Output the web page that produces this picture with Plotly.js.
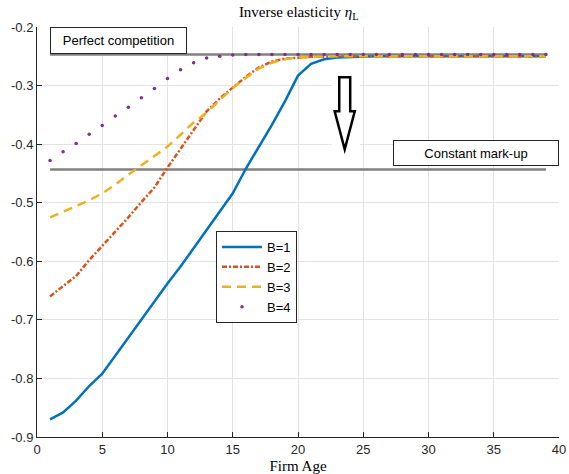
<!DOCTYPE html>
<html>
<head>
<meta charset="utf-8">
<script src="https://cdn.plot.ly/plotly-3.0.1.min.js"></script>
<style>html,body{margin:0;padding:0;background:#fff;}#chart{width:569px;height:474px;}</style>
</head>
<body>
<div id="chart"></div>
<script>
// ---- data ----
const firmAge = [1,2,3,4,5,6,7,8,9,10,11,12,13,14,15,16,17,18,19,20,21,22,23,24,25,26,27,28,29,30,31,32,33,34,35,36,37,38,39];
const etaB1 = [-0.870,-0.858,-0.838,-0.813,-0.792,-0.761,-0.730,-0.700,-0.670,-0.638,-0.609,-0.578,-0.548,-0.516,-0.484,-0.442,-0.405,-0.367,-0.327,-0.283,-0.263,-0.255,-0.252,-0.251,-0.250,-0.250,-0.250,-0.250,-0.250,-0.250,-0.250,-0.250,-0.250,-0.250,-0.250,-0.250,-0.250,-0.250,-0.250];
const etaB2 = [-0.660,-0.642,-0.625,-0.598,-0.574,-0.550,-0.525,-0.499,-0.474,-0.440,-0.408,-0.374,-0.344,-0.322,-0.303,-0.285,-0.269,-0.259,-0.254,-0.252,-0.251,-0.251,-0.250,-0.250,-0.250,-0.250,-0.250,-0.250,-0.250,-0.250,-0.250,-0.250,-0.250,-0.250,-0.250,-0.250,-0.250,-0.250,-0.250];
const etaB3 = [-0.525,-0.515,-0.506,-0.496,-0.484,-0.469,-0.452,-0.436,-0.421,-0.404,-0.384,-0.363,-0.346,-0.325,-0.304,-0.287,-0.271,-0.261,-0.255,-0.252,-0.251,-0.251,-0.250,-0.250,-0.250,-0.250,-0.250,-0.250,-0.250,-0.250,-0.250,-0.250,-0.250,-0.250,-0.250,-0.250,-0.250,-0.250,-0.250];
const etaB4 = [-0.428,-0.413,-0.399,-0.383,-0.368,-0.352,-0.337,-0.321,-0.305,-0.288,-0.273,-0.261,-0.253,-0.250,-0.248,-0.247,-0.247,-0.247,-0.247,-0.247,-0.247,-0.247,-0.247,-0.247,-0.247,-0.247,-0.247,-0.247,-0.247,-0.247,-0.247,-0.247,-0.247,-0.247,-0.247,-0.247,-0.247,-0.247,-0.247];
const refX = [1, 39];
const perfectCompetition = [-0.247, -0.247];
const constantMarkup = [-0.4435, -0.4435];
const seriesNames = ['B=1','B=2','B=3','B=4'];
const xTickVals = [0,5,10,15,20,25,30,35,40];
const yTickVals = [-0.9,-0.8,-0.7,-0.6,-0.5,-0.4,-0.3,-0.2];
const yTickLabels = ['-0.9','-0.8','-0.7','-0.6','-0.5','-0.4','-0.3','-0.2'];

const sans = 'Liberation Sans, Arial, sans-serif';
const serif = 'Liberation Serif, Times New Roman, serif';
const axisCol = '#262626';

const traces = [
  {x: refX, y: perfectCompetition, mode:'lines', line:{color:'#808080', width:2.5}, showlegend:false, hoverinfo:'skip'},
  {x: refX, y: constantMarkup, mode:'lines', line:{color:'#808080', width:2.5}, showlegend:false, hoverinfo:'skip'},
  {x: firmAge, y: etaB1, name: seriesNames[0], mode:'lines', line:{color:'#0072BD', width:2.5}},
  {x: firmAge, y: etaB2, name: seriesNames[1], mode:'lines', line:{color:'#D95319', width:2.5, dash:'5px,2px,2px,2px'}},
  {x: firmAge, y: etaB3, name: seriesNames[2], mode:'lines', line:{color:'#EDB120', width:2.5, dash:'9px,6px'}},
  {x: firmAge, y: etaB4, name: seriesNames[3], mode:'markers', marker:{color:'#7E2F8E', size:3.5}}
];

const layout = {
  width: 569, height: 474,
  margin: {l:37, r:10, t:27, b:37},
  paper_bgcolor:'#ffffff', plot_bgcolor:'#ffffff',
  font: {family: sans, size: 13, color: axisCol},
  title: {text: 'Inverse elasticity <i>η</i><sub>L</sub>', font:{family: serif, size:15, color:'#000'}, x:0.525, xanchor:'center', y: 1-12/474, yanchor:'middle', yref:'container'},
  xaxis: {
    range:[0,40], tickvals: xTickVals, ticks:'inside', ticklen:5, tickcolor:axisCol,
    showline:true, linecolor:axisCol, linewidth:1, mirror:false,
    showgrid:true, gridcolor:'#e3e3e3', gridwidth:1, zeroline:false,
    tickfont:{family:sans, size:13, color:axisCol},
    title:{text:'Firm Age', font:{family:serif, size:15, color:'#000'}, standoff:4},
    automargin:false
  },
  yaxis: {
    range:[-0.9,-0.2], tickvals: yTickVals, ticktext: yTickLabels, ticks:'inside', ticklen:5, tickcolor:axisCol,
    showline:true, linecolor:axisCol, linewidth:1, mirror:false,
    showgrid:true, gridcolor:'#e3e3e3', gridwidth:1, zeroline:false,
    tickfont:{family:sans, size:13, color:axisCol},
    automargin:false
  },
  legend: {
    x:(216-37)/522, xanchor:'left', y:(437-231)/410, yanchor:'top',
    bgcolor:'#ffffff', bordercolor:axisCol, borderwidth:1,
    font:{family:sans, size:13, color:'#000'}, itemwidth:40
  },
  shapes: [
    {type:'rect', xref:'x', yref:'y', x0:22.58, x1:24.73, y0:-0.274, y1:-0.421, fillcolor:'#ffffff', line:{width:0}},
    {type:'path', xref:'x', yref:'y', path:'M 23.16,-0.286 L 24.0,-0.286 L 24.0,-0.344 L 24.35,-0.344 L 23.58,-0.409 L 22.81,-0.344 L 23.16,-0.344 Z', fillcolor:'#ffffff', line:{color:'#000', width:2.5}}
  ],
  annotations: [
    {text:'Perfect competition', xref:'paper', yref:'paper', x:(49.5-37)/522, xanchor:'left', y:1, yanchor:'top', showarrow:false,
     width:131, height:21, align:'center', valign:'middle', borderpad:2, borderwidth:1, bordercolor:axisCol, bgcolor:'#ffffff', font:{family:sans, size:13, color:'#000'}},
    {text:'Constant mark-up', xref:'paper', yref:'paper', x:(392.5-37)/522, xanchor:'left', y:(437-139.5)/410, yanchor:'top', showarrow:false,
     width:160, height:20, align:'center', valign:'middle', borderpad:2, borderwidth:1, bordercolor:axisCol, bgcolor:'#ffffff', font:{family:sans, size:13, color:'#000'}}
  ]
};

Plotly.newPlot('chart', traces, layout, {staticPlot:true, displayModeBar:false});
</script>
</body>
</html>
